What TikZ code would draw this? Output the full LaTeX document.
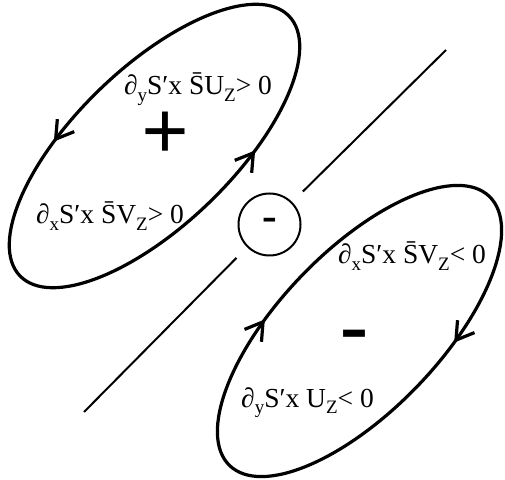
\documentclass[tikz,border=0pt]{standalone}
\usepackage{fontspec}
\setmainfont{Liberation Serif}
\usetikzlibrary{arrows.meta, decorations.markings}

\newcommand\lowsub[1]{\raisebox{-6.5pt}{\fontsize{19}{19}\selectfont #1}}

\tikzset{
  barb/.tip={Straight Barb[length=17pt,width=21pt]},
  loop/.style={line width=3.2pt},
  ccwmarks/.style 2 args={postaction={decorate},
    decoration={markings,
      mark=at position #1 with {\arrow{barb}},
      mark=at position #2 with {\arrow{barb}}}},
  cwmarks/.style 2 args={postaction={decorate},
    decoration={markings,
      mark=at position #1 with {\arrowreversed{barb}},
      mark=at position #2 with {\arrowreversed{barb}}}},
  cut/.style={line width=2pt},
  ring/.style={circle, draw, line width=2pt, minimum size=62pt, inner sep=0pt,
    font=\fontsize{44}{44}\selectfont\bfseries},
  cond/.style={anchor=base, inner sep=0pt, font=\fontsize{27.5}{27.5}\selectfont},
  sign/.style={inner sep=0pt, font=\fontsize{84}{84}\selectfont\bfseries},
}

\begin{document}
\begin{tikzpicture}[x=1pt, y=1pt]
  \useasboundingbox (0,0) rectangle (505,479);

  % the two loops
  \draw[loop, ccwmarks={0.33}{0.83}, shift={(154.5,333)}, rotate=44]
    (0,0) ellipse [x radius=187, y radius=78.7];
  \draw[loop, cwmarks={0.316}{0.816}, shift={(359.5,148)}, rotate=46]
    (0,0) ellipse [x radius=187, y radius=80];

  % separating line
  \coordinate (lo) at (84,67);
  \coordinate (hi) at (446,429);
  \node[ring] (minus) at (269.5,254.5) {-};
  \draw[cut, shorten >=15pt] (lo) -- (minus);
  \draw[cut, shorten <=15pt] (minus) -- (hi);

  % signs
  \node[sign] (plus) at (165,343.5) {+};
  \node[sign] (neg) at (354,137) {-};

  % conditions
  \node[cond] (upU) at (198,384) {∂\lowsub{y}S′x \=SU\lowsub{Z}> 0};
  \node[cond] (upV) at (110,255) {∂\lowsub{x}S′x \=SV\lowsub{Z}> 0};
  \node[cond] (loV) at (412,215) {∂\lowsub{x}S′x \=SV\lowsub{Z}< 0};
  \node[cond] (loU) at (307.5,72) {∂\lowsub{y}S′x U\lowsub{Z}< 0};
\end{tikzpicture}
\end{document}
